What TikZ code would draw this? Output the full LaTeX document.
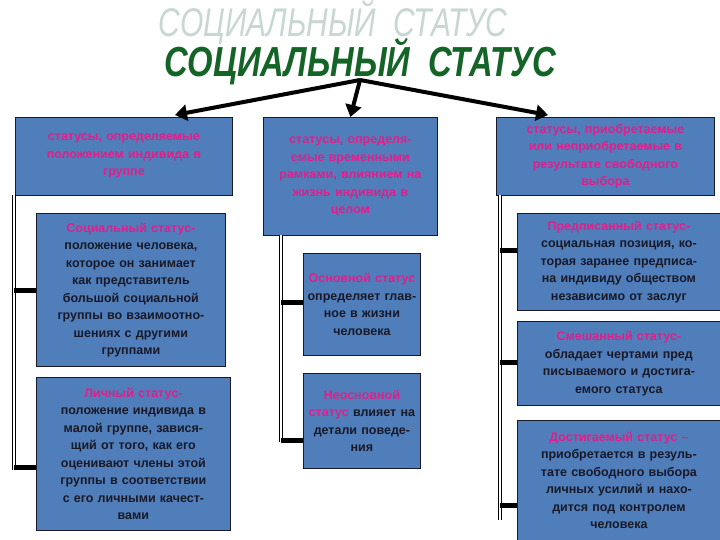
\documentclass[tikz,border=0pt]{standalone}
\usepackage{fontspec}
\setmainfont{Liberation Sans}
\usetikzlibrary{arrows.meta}
\definecolor{boxblue}{RGB}{79,126,186}
\definecolor{pinkt}{RGB}{225,30,140}
\definecolor{txt}{RGB}{25,25,40}
\definecolor{dgreen}{RGB}{20,100,40}
\definecolor{ghost}{RGB}{200,215,210}
\tikzset{
 bx/.style={draw=txt,line width=0.8pt,fill=boxblue,anchor=north west,inner sep=1pt,align=center,text=txt,font=\fontsize{12.5}{17.5}\selectfont\bfseries},
 rail/.style={double,double distance=2pt,line width=0.9pt,draw=black},
 stub/.style={line width=5pt,draw=black},
 arr/.style={line width=4pt,draw=black,-{Triangle[length=12pt,width=16pt]}}
}
\begin{document}
\begin{tikzpicture}[x=1pt,y=-1pt]
\useasboundingbox (0,0) rectangle (720,540);
\fill[white] (0,0) rectangle (720,540);
\node[text=ghost,font=\fontsize{40}{40}\selectfont\itshape] (ghost) at (333,22) {\scalebox{0.75}[1]{СОЦИАЛЬНЫЙ\ \ СТАТУС}};
\node[text=dgreen,font=\fontsize{42}{42}\selectfont\bfseries\itshape] (title) at (360,62) {\scalebox{0.78}[1]{СОЦИАЛЬНЫЙ\ \ СТАТУС}};
\coordinate (src) at (360,80);
\coordinate (t1) at (175,115);
\coordinate (t3) at (548,115);
% headers
\node[bx,minimum width=217,minimum height=78,text width=213] (h1) at (15,117) {\textcolor{pinkt}{статусы, определяемые\\положением индивида в\\группе}};
\node[bx,minimum width=174,minimum height=118,text width=170] (h2) at (263,117) {\textcolor{pinkt}{статусы, определя-\\емые временными\\рамками, влиянием на\\жизнь индивида в\\целом}};
\node[bx,minimum width=218,minimum height=78,text width=214] (h3) at (496,117) {\textcolor{pinkt}{статусы, приобретаемые\\или неприобретаемые в\\результате свободного\\выбора}};
\draw[arr] (src) -- (t1);
\draw[arr] (src) -- (h2.north);
\draw[arr] (src) -- (t3);
% left
\node[bx,minimum width=189,minimum height=153,text width=185] (l1) at (36,213) {\textcolor{pinkt}{Социальный статус-}\\положение человека,\\которое он занимает\\как представитель\\большой социальной\\группы во взаимоотно-\\шениях с другими\\группами};
\node[bx,minimum width=194,minimum height=153,text width=190] (l2) at (36,377) {\textcolor{pinkt}{Личный статус-}\\положение индивида в\\малой группе, завися-\\щий от того, как его\\оценивают члены этой\\группы в соответствии\\с его личными качест-\\вами};
% mid
\node[bx,minimum width=117,minimum height=102,text width=113] (m1) at (303,253) {\textcolor{pinkt}{Основной статус}\\определяет глав-\\ное в жизни\\человека};
\node[bx,minimum width=117,minimum height=95,text width=113] (m2) at (303,373) {\textcolor{pinkt}{Неосновной}\\\textcolor{pinkt}{статус} влияет на\\детали поведе-\\ния};
% right
\node[bx,minimum width=203,minimum height=97,text width=199] (r1) at (517,213) {\textcolor{pinkt}{Предписанный статус-}\\социальная позиция, ко-\\торая заранее предписа-\\на индивиду обществом\\независимо от заслуг};
\node[bx,minimum width=203,minimum height=84,text width=199] (r2) at (517,321) {\textcolor{pinkt}{Смешанный статус-}\\обладает чертами пред\\писываемого и достига-\\емого статуса};
\node[bx,minimum width=203,minimum height=120,text width=199] (r3) at (517,420) {\textcolor{pinkt}{Достигаемый статус –}\\приобретается в резуль-\\тате свободного выбора\\личных усилий и нахо-\\дится под контролем\\человека};
% rails
\coordinate (la) at (14,195); \coordinate (lb) at (14,470);
\draw[rail] (la) -- (lb);
\draw[stub] (14,290) -- (l1.west |- 0,290);
\draw[stub] (14,467) -- (l2.west |- 0,467);
\coordinate (ma) at (281,235); \coordinate (mb) at (281,442);
\draw[rail] (ma) -- (mb);
\draw[stub] (281,302) -- (m1.west |- 0,302);
\draw[stub] (281,440) -- (m2.west |- 0,440);
\coordinate (ra) at (500,195); \coordinate (rb) at (500,520);
\draw[rail] (ra) -- (rb);
\draw[stub] (500,250) -- (r1.west |- 0,250);
\draw[stub] (500,362) -- (r2.west |- 0,362);
\draw[stub] (500,505) -- (r3.west |- 0,505);
\end{tikzpicture}
\end{document}
